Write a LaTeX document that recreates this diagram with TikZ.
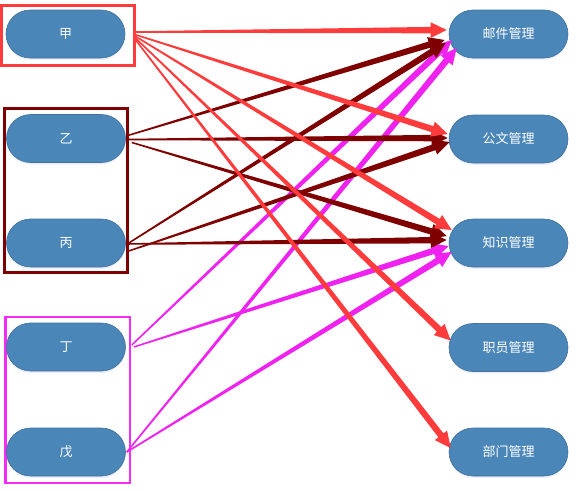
\documentclass[tikz,border=0pt]{standalone}
\usepackage{fontspec}
\newfontfamily\cjk{Noto Sans CJK SC}
\usetikzlibrary{calc,shadows}

\definecolor{pillfill}{HTML}{4A86B8}
\definecolor{pillline}{HTML}{41719C}
\definecolor{jiared}{HTML}{FF3B3B}
\definecolor{yibing}{HTML}{7F0000}
\definecolor{dingwu}{HTML}{F022F0}
\definecolor{framemag}{HTML}{F52CF5}

% tapered arrow: colour, start anchor, start offset, end anchor, end offset
\newcommand\taperarrow[5]{%
  \coordinate (ta) at ($(#2)+(#3)$);
  \coordinate (tb) at ($(#4)+(#5)$);
  \coordinate (tc) at ($(tb)!16pt!(ta)$);
  \fill[#1] ($(ta)!0.75pt!90:(tb)$) -- ($(tc)!3.2pt!90:(tb)$)
    -- ($(tc)!7.8pt!90:(tb)$) -- (tb) -- ($(tc)!7.8pt!-90:(tb)$)
    -- ($(tc)!3.2pt!-90:(tb)$) -- ($(ta)!0.75pt!-90:(tb)$) -- cycle;
}

\tikzset{
  pill/.style={rectangle, rounded corners=24pt, minimum width=119pt,
    minimum height=48pt, fill=pillfill, draw=pillline, line width=0.6pt,
    text=white, font=\cjk\fontsize{13}{15}\selectfont, inner sep=0pt,
    drop shadow={shadow xshift=0pt, shadow yshift=-2pt, opacity=0.18, fill=cyan!40!blue!40}},
  groupframe/.style={line width=3pt},
}

\begin{document}
\begin{tikzpicture}[x=1pt, y=-1pt]
\useasboundingbox (0,0) rectangle (578,490);

% group frames
\draw[groupframe, jiared] (1.5,5) rectangle (134,65);
\draw[groupframe, yibing] (4.5,108.5) rectangle (127,272);
\draw[groupframe, framemag, line width=2.6pt] (5.5,317) rectangle (130,483);

% left nodes
\node[pill] (jia)  at (65.5,34)  {甲};
\node[pill] (yi)   at (66,138.5) {乙};
\node[pill] (bing) at (66,243)   {丙};
\node[pill] (ding) at (66,347)   {丁};
\node[pill] (wu)   at (66,452)   {戊};

% right nodes
\node[pill] (you) at (508.5,34)    {邮件管理};
\node[pill] (gw)  at (508.5,139)   {公文管理};
\node[pill] (zs)  at (508.5,243)   {知识管理};
\node[pill] (zy)  at (508.5,347.5) {职员管理};
\node[pill] (bm)  at (508.5,452)   {部门管理};

% connectors from 丁 and 戊
\taperarrow{dingwu}{ding.east}{6,-2}{you.west}{3,6}
\taperarrow{dingwu}{ding.east}{8,0}{zs.west}{0,3}
\taperarrow{dingwu}{wu.east}{1,0}{you.west}{8,14}
\taperarrow{dingwu}{wu.east}{1,0}{zs.west}{3,9}

% connectors from 乙 and 丙
\taperarrow{yibing}{yi.east}{2,-3}{you.west}{-4,6}
\taperarrow{yibing}{yi.east}{2,1}{gw.west}{-1,-1}
\taperarrow{yibing}{yi.east}{6,4}{zs.west}{-2,-7}
\taperarrow{yibing}{bing.east}{3,0}{you.west}{-3,9}
\taperarrow{yibing}{bing.east}{3,8}{gw.west}{1,3}
\taperarrow{yibing}{bing.east}{3,1}{zs.west}{-2,-3}

% connectors from 甲
\taperarrow{jiared}{jia.east}{8,-2}{you.west}{-2,-4}
\taperarrow{jiared}{jia.east}{8,0}{gw.west}{-1,-5}
\taperarrow{jiared}{jia.east}{8,1}{zs.west}{3,-13}
\taperarrow{jiared}{jia.east}{8,2}{zy.west}{2,-7}
\taperarrow{jiared}{jia.east}{8,3}{bm.west}{2,-4}
\end{tikzpicture}
\end{document}
